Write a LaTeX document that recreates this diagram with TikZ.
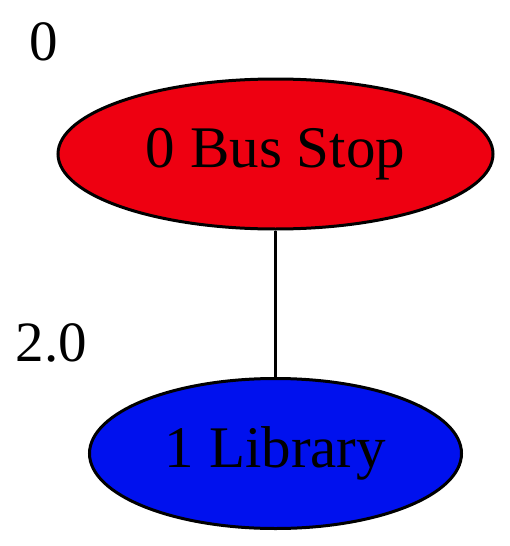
\documentclass[tikz,border=0pt]{standalone}
\usepackage{fontspec}
\setmainfont{Liberation Serif}
\usetikzlibrary{shapes.geometric}
\definecolor{stopred}{RGB}{238,0,17}
\definecolor{libblue}{RGB}{0,17,238}
\tikzset{
  place/.style={ellipse,draw=black,line width=3pt,inner sep=0pt,
    minimum height=150pt,font=\fontsize{59}{66}\selectfont},
  weight/.style={font=\fontsize{57}{64}\selectfont,inner sep=0pt}
}
\begin{document}
\begin{tikzpicture}[x=1pt,y=-1pt]
  \useasboundingbox (0,0) rectangle (509,546);
  \node[place,fill=stopred,minimum width=435pt] (bus) at (275.5,154) {0 Bus Stop};
  \node[place,fill=libblue,minimum width=372pt] (lib) at (275.5,453.5) {1 Library};
  \node[weight] (w0) at (43.5,42) {0};
  \node[weight] (w1) at (51.5,343) {2.0};

  \draw[line width=3pt] (bus) -- (lib);
\end{tikzpicture}
\end{document}
